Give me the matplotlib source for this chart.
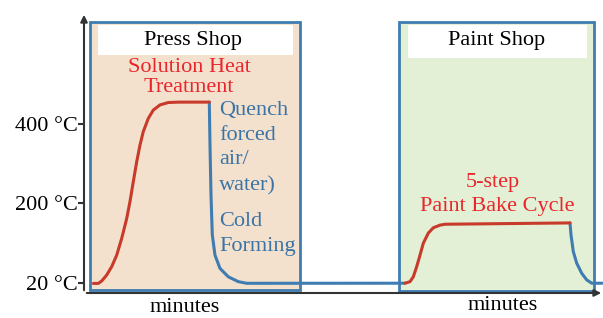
import numpy as np
import matplotlib
matplotlib.use("Agg")
import matplotlib.pyplot as plt
from matplotlib.patches import Rectangle

# ---- data (arbitrary minutes, temperature in °C) ----
press_heat_t = [1.86, 2.86, 3.54, 4.54, 5.54, 6.54, 7.54, 8.54, 9.2, 9.86, 10.54,
                11.2, 11.86, 12.86, 13.86, 15.2, 16.86, 18.86, 25.06]
press_heat_T = [19, 19, 24.5, 38, 57, 83, 121, 166, 205, 255, 305,
                347, 381, 414, 435, 448, 454, 455, 455]
quench_t = [25.06, 25.2, 25.4, 25.66, 26.2, 27.2, 28.86, 30.86, 32.54, 64.2]
quench_T = [455, 347, 221, 129, 83, 53, 34, 23, 19.3, 19.5]
bake_t = [64.2, 65.2, 65.86, 66.54, 67.2, 67.86, 68.86, 69.86, 71.2, 72.2, 97.2]
bake_T = [19.5, 23, 34, 57, 83, 110, 133, 145, 151, 153, 156]
cool_t = [97.2, 97.4, 97.86, 98.54, 99.54, 100.54, 101.54, 103.6]
cool_T = [156, 129, 91, 65, 42, 27, 19.5, 19.5]

ytick_vals = [20, 200, 400]
ytick_labels = ["20 °C", "200 °C", "400 °C"]
xlabel = "minutes"

RED = "#C83A2A"
BLUE = "#3E7CB1"
TXT_RED = "#E8262B"
TXT_BLUE = "#3A74A6"

def fwd(t):
    t = np.asarray(t, dtype=float)
    return np.where(t <= 200, (t - 20) / 180.0, 1 + (t - 200) / 200.0)

def inv(u):
    u = np.asarray(u, dtype=float)
    return np.where(u <= 1, 20 + 180 * u, 200 + 200 * (u - 1))

W, H = 603, 318
fig = plt.figure(figsize=(W / 100, H / 100), dpi=100)
plt.rcParams['font.family'] = ['Liberation Serif', 'DejaVu Serif']

ax_l, ax_r, ax_t, ax_b = 84, 603, 15, 293
ax = fig.add_axes([ax_l / W, (H - ax_b) / H, (ax_r - ax_l) / W, (ax_b - ax_t) / H])
ax.set_yscale('function', functions=(fwd, inv))
ax.set_xlim(0, (ax_r - ax_l) / 5.0)
ax.set_ylim(float(inv(-0.126)), float(inv(3.371)))

for s in ax.spines.values():
    s.set_visible(False)
ax.set_xticks([])
ax.set_yticks(ytick_vals)
ax.set_yticklabels(ytick_labels, fontsize=16)
ax.tick_params(axis='y', length=4, width=1.5, color="#333333", pad=0.5)
ax.patch.set_alpha(0)

def fx(px):
    return (px - ax_l) / (ax_r - ax_l)

def fy(py):
    return (ax_b - py) / (ax_b - ax_t)

# boxes
ax.add_patch(Rectangle((fx(90), fy(290)), fx(300) - fx(90), fy(22) - fy(290),
                       transform=ax.transAxes, facecolor="#F4E1CD", edgecolor=BLUE,
                       lw=2, zorder=1, clip_on=False))
ax.add_patch(Rectangle((fx(399), fy(291)), fx(594) - fx(399), fy(22) - fy(291),
                       transform=ax.transAxes, facecolor="#E3F0D5", edgecolor=BLUE,
                       lw=2, zorder=1, clip_on=False))
ax.add_patch(Rectangle((fx(98), fy(55)), fx(293) - fx(98), fy(25) - fy(55),
                       transform=ax.transAxes, facecolor="white", edgecolor="none",
                       zorder=2, clip_on=False))
ax.add_patch(Rectangle((fx(408), fy(58)), fx(587) - fx(408), fy(25) - fy(58),
                       transform=ax.transAxes, facecolor="white", edgecolor="none",
                       zorder=2, clip_on=False))

# curves
ax.plot(quench_t, quench_T, color=BLUE, lw=2.2, zorder=3, solid_capstyle='round')
ax.plot(cool_t, cool_T, color=BLUE, lw=2.2, zorder=3, solid_capstyle='round')
ax.plot(press_heat_t, press_heat_T, color=RED, lw=2.2, zorder=4, solid_capstyle='round')
ax.plot(bake_t, bake_T, color=RED, lw=2.2, zorder=4, solid_capstyle='round')

# axes arrows
ax.annotate("", xy=(fx(84), fy(12)), xytext=(fx(84), fy(293)), xycoords='axes fraction',
            arrowprops=dict(arrowstyle="-|>", color="#333333", lw=1.5, mutation_scale=10),
            zorder=5, annotation_clip=False)
ax.annotate("", xy=(fx(604), fy(293)), xytext=(fx(84), fy(293)), xycoords='axes fraction',
            arrowprops=dict(arrowstyle="-|>", color="#333333", lw=1.5, mutation_scale=10),
            zorder=5, annotation_clip=False)

def txt(px, py, s, color="black", ha="center", size=16):
    ax.text(fx(px), fy(py), s, transform=ax.transAxes, ha=ha, va="center",
            color=color, fontsize=size, zorder=6, clip_on=False)

txt(193, 41, "Press Shop")
txt(497, 41, "Paint Shop")
txt(189, 68, "Solution Heat", TXT_RED)
txt(189, 88, "Treatment", TXT_RED)
for py, s in [(110, "Quench"), (135, "forced"), (160, "air/"), (186, "water)"),
              (221, "Cold"), (246, "Forming")]:
    txt(219, py, s, TXT_BLUE, ha="left")
txt(493, 183, "5-step", TXT_RED)
txt(497, 207, "Paint Bake Cycle", TXT_RED)
txt(185, 308, xlabel)
txt(503, 306, xlabel)

fig.savefig("out.png", dpi=100)
